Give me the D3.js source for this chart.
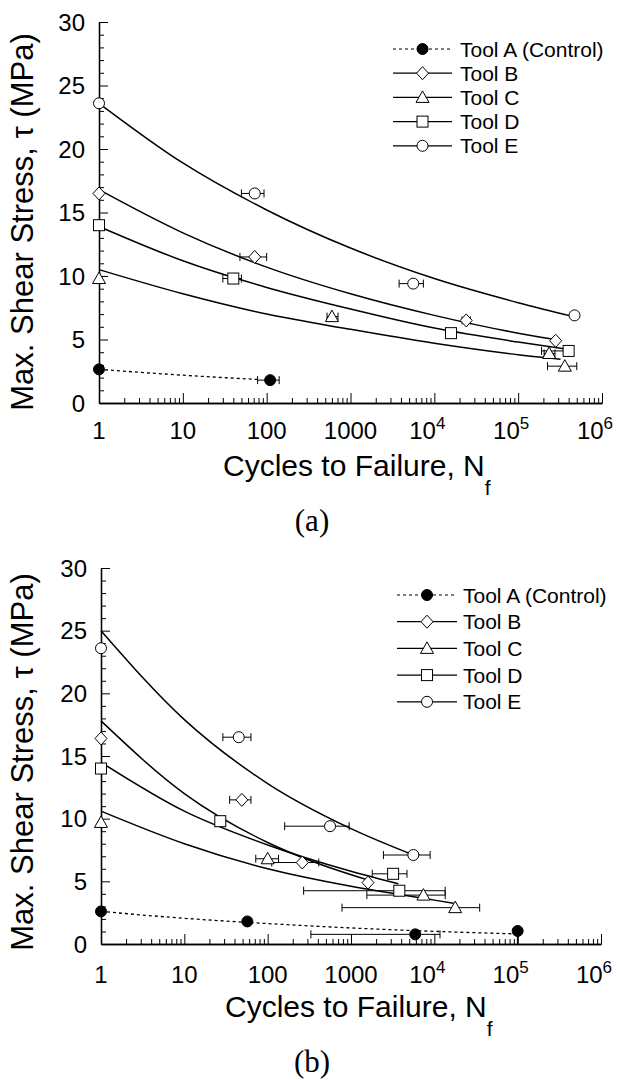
<!DOCTYPE html>
<html><head><meta charset="utf-8">
<script src="https://cdn.jsdelivr.net/npm/d3@7/dist/d3.min.js"></script>
<style>body{margin:0;background:#fff}</style>
</head><body>
<svg id="c" width="618" height="1080" xmlns="http://www.w3.org/2000/svg"></svg>
<script>
// ---------- shared labels ----------
const tools = ["Tool A (Control)", "Tool B", "Tool C", "Tool D", "Tool E"];
const toolMarkers = ["fcircle", "diamond", "triangle", "square", "circle"];
const yTicks = [0, 5, 10, 15, 20, 25, 30];
const xTicks = [1, 10, 100, 1000, 1e4, 1e5, 1e6];
const xTickBase = ["1", "10", "100", "1000", "10", "10", "10"];
const xTickSup = ["", "", "", "", "4", "5", "6"];
const yTitle = "Max. Shear Stress, \u03C4 (MPa)";
const xTitle = "Cycles to Failure, N";
const xTitleSub = "f";
const panelLabels = ["(a)", "(b)"];

// ---------- panel (a) measured points {n: cycles, t: MPa, lo/hi: cycle error} ----------
const aPtsA = [{n:1,t:2.65},{n:110,t:1.8,lo:78,hi:141}];
const aPtsB = [{n:1,t:16.5},{n:72,t:11.5,lo:48,hi:100},{n:24000,t:6.5,lo:21400,hi:26900},{n:2.8e5,t:4.9}];
const aPtsC = [{n:1,t:9.8},{n:600,t:6.8,lo:525,hi:710},{n:2.34e5,t:3.9,lo:2.04e5,hi:2.75e5},{n:3.6e5,t:2.9,lo:2.24e5,hi:5.0e5}];
const aPtsD = [{n:1,t:14.0},{n:40,t:9.8,lo:30,hi:50},{n:15800,t:5.5},{n:4.0e5,t:4.1,lo:1.9e5,hi:4.2e5}];
const aPtsE = [{n:1,t:23.6},{n:72,t:16.5,lo:50,hi:93},{n:5600,t:9.4,lo:3800,hi:7400},{n:4.7e5,t:6.9,lo:4.4e5,hi:5.0e5}];
// panel (a) fitted curves [cycles, MPa]
const aFitA = [[1,2.65],[10,2.19],[80,1.85]];
const aFitB = [[1,16.8],[10,13.4],[100,10.7],[1000,8.6],[1e4,6.9],[1e5,5.5],[2.8e5,5.0]];
const aFitC = [[1,10.5],[10,8.6],[100,7.0],[1000,5.8],[1e4,4.7],[1e5,3.8],[3.2e5,3.45]];
const aFitD = [[1,13.9],[10,11.2],[100,9.1],[1000,7.4],[1e4,5.9],[1e5,4.8],[4.2e5,4.2]];
const aFitE = [[1,23.6],[10,18.9],[100,15.2],[1000,12.2],[1e4,9.8],[1e5,7.9],[4.6e5,6.8]];

// ---------- panel (b) ----------
const bPtsA = [{n:1,t:2.6},{n:57,t:1.8},{n:5900,t:0.77,lo:330,hi:11700},{n:1e5,t:1.04,ylo:0}];
const bPtsB = [{n:1,t:16.4},{n:49,t:11.5,lo:35,hi:63},{n:260,t:6.5,lo:112,hi:410},{n:1600,t:4.9}];
const bPtsC = [{n:1,t:9.7},{n:100,t:6.8,lo:72,hi:135},{n:7400,t:3.9,lo:1550,hi:13500},{n:17800,t:2.9,lo:780,hi:35000}];
const bPtsD = [{n:1,t:14.0},{n:27,t:9.8,lo:25,hi:31},{n:3200,t:5.6,lo:1800,hi:4700},{n:3800,t:4.25,lo:270,hi:13500}];
const bPtsE = [{n:1,t:23.6},{n:45,t:16.5,lo:29,hi:63},{n:560,t:9.4,lo:160,hi:950},{n:5600,t:7.1,lo:2450,hi:8900}];
const bFitA = [[1,2.6],[10,2.05],[100,1.63],[1000,1.28],[1e4,1.01],[9e4,0.81]];
const bFitB = [[1,17.8],[10,12.0],[100,8.1],[340,6.6],[1600,5.1]];
const bFitC = [[1,10.6],[10,8.0],[100,6.0],[1000,4.6],[1e4,3.5],[17000,3.25]];
const bFitD = [[1,14.5],[10,10.6],[100,7.9],[1000,5.8],[3700,4.8]];
const bFitE = [[1,25.0],[10,17.9],[100,12.8],[1000,9.2],[5600,7.1]];

const SANS = "'Liberation Sans', Arial, Helvetica, sans-serif";
const SERIF = "'Liberation Serif', 'Times New Roman', serif";
const svg = d3.select("#c");

function marker(g, type, cx, cy) {
  const s = 5.5;
  if (type === "circle" || type === "fcircle") {
    g.append("circle").attr("cx", cx).attr("cy", cy).attr("r", s)
      .attr("fill", type === "fcircle" ? "#000" : "#fff").attr("stroke", "#000").attr("stroke-width", 1);
  } else if (type === "square") {
    g.append("rect").attr("x", cx - 5.5).attr("y", cy - 5.5).attr("width", 11).attr("height", 11)
      .attr("fill", "#fff").attr("stroke", "#000").attr("stroke-width", 1);
  } else if (type === "diamond") {
    g.append("path").attr("d", `M${cx},${cy-6.5}L${cx+6},${cy}L${cx},${cy+6.5}L${cx-6},${cy}Z`)
      .attr("fill", "#fff").attr("stroke", "#000").attr("stroke-width", 1);
  } else if (type === "triangle") {
    g.append("path").attr("d", `M${cx},${cy-6.5}L${cx+6.5},${cy+5}L${cx-6.5},${cy+5}Z`)
      .attr("fill", "#fff").attr("stroke", "#000").attr("stroke-width", 1);
  }
}

function panel(cfg) {
  const x = d3.scaleLog().domain([1, 1e6]).range([cfg.x0, cfg.x1]);
  const y = d3.scaleLinear().domain([0, 30]).range([cfg.y0, cfg.y1]);
  const g = svg.append("g");

  // axes (ticks point inward)
  const yMinor = d3.range(0, 31).filter(v => v % 5 !== 0);
  const ax = g.append("g").attr("class", "axes");
  ax.append("g").attr("transform", `translate(${cfg.x0},0)`)
    .call(d3.axisRight(y).tickValues(yMinor).tickSizeInner(5).tickSizeOuter(0).tickFormat(() => ""));
  ax.append("g").attr("transform", `translate(${cfg.x0},0)`)
    .call(d3.axisRight(y).tickValues(yTicks).tickSizeInner(9).tickSizeOuter(0).tickFormat(() => ""));
  const xMinor = [];
  for (let d = 1; d < 1e6; d *= 10) for (let k = 2; k <= 9; k++) xMinor.push(d * k);
  ax.append("g").attr("transform", `translate(0,${cfg.y0})`)
    .call(d3.axisTop(x).tickValues(xMinor).tickSizeInner(5).tickSizeOuter(0).tickFormat(() => ""));
  ax.append("g").attr("transform", `translate(0,${cfg.y0})`)
    .call(d3.axisTop(x).tickValues(xTicks).tickSizeInner(10).tickSizeOuter(0).tickFormat(() => ""));
  ax.selectAll("path.domain").attr("stroke", "#000").attr("stroke-width", 1.3);
  ax.selectAll(".tick line").attr("stroke", "#000").attr("stroke-width", 1);

  // tick labels
  g.selectAll("text.yl").data(yTicks).join("text")
    .attr("x", cfg.x0 - 14).attr("y", d => y(d)).attr("dy", "0.36em")
    .attr("text-anchor", "end").attr("font-family", SANS).attr("font-size", 24).text(d => d);
  xTicks.forEach((v, i) => {
    const t = g.append("text").attr("x", x(v) - (xTickSup[i] ? 7 : 0)).attr("y", cfg.y0 + cfg.xlabDy)
      .attr("text-anchor", "middle").attr("font-family", SANS).attr("font-size", 24);
    t.append("tspan").text(xTickBase[i]);
    if (xTickSup[i]) t.append("tspan").attr("font-size", 17).attr("dy", -10).text(xTickSup[i]);
  });

  // titles
  g.append("text").attr("transform", `translate(${cfg.ytx},${cfg.yty}) rotate(-90)`)
    .attr("text-anchor", "middle").attr("font-family", SANS).attr("font-size", 31).text(yTitle);
  const xt = g.append("text").attr("x", cfg.xtx).attr("y", cfg.xty)
    .attr("font-family", SANS).attr("font-size", 30);
  xt.append("tspan").text(xTitle);
  xt.append("tspan").attr("font-size", 21).attr("dy", 19).text(xTitleSub);
  g.append("text").attr("x", cfg.plx).attr("y", cfg.ply).attr("text-anchor", "middle")
    .attr("font-family", SERIF).attr("font-size", 31).text(cfg.label);

  // fitted curves
  const line = d3.line().x(d => x(d[0])).y(d => y(d[1])).curve(d3.curveMonotoneX);
  cfg.fits.forEach((f, i) => {
    g.append("path").attr("d", line(f)).attr("fill", "none").attr("stroke", "#000")
      .attr("stroke-width", i === 0 ? 1.3 : 1.5)
      .attr("stroke-dasharray", i === 0 ? "3,3" : null);
  });

  // error bars
  cfg.pts.forEach(ps => ps.forEach(p => {
    if (p.lo !== undefined) {
      const yy = y(p.t);
      g.append("line").attr("x1", x(p.lo)).attr("x2", x(p.hi)).attr("y1", yy).attr("y2", yy)
        .attr("stroke", "#000").attr("stroke-width", 1);
      [p.lo, p.hi].forEach(e => g.append("line").attr("x1", x(e)).attr("x2", x(e))
        .attr("y1", yy - 4).attr("y2", yy + 4).attr("stroke", "#000").attr("stroke-width", 1));
    }
    if (p.ylo !== undefined) {
      g.append("line").attr("x1", x(p.n)).attr("x2", x(p.n)).attr("y1", y(p.t)).attr("y2", y(p.ylo))
        .attr("stroke", "#000").attr("stroke-width", 1.5);
    }
  }));
  // markers
  cfg.pts.forEach((ps, i) => ps.forEach(p => marker(g, toolMarkers[i], x(p.n), y(p.t))));

  // legend
  tools.forEach((name, i) => {
    const yy = cfg.legY + i * cfg.legDy;
    g.append("line").attr("x1", cfg.legX0).attr("x2", cfg.legX1).attr("y1", yy).attr("y2", yy)
      .attr("stroke", "#000").attr("stroke-width", i === 0 ? 1.2 : 1.3)
      .attr("stroke-dasharray", i === 0 ? "3,3" : null);
    marker(g, toolMarkers[i], (cfg.legX0 + cfg.legX1) / 2, yy);
    g.append("text").attr("x", cfg.legTx).attr("y", yy).attr("dy", "0.36em")
      .attr("font-family", SANS).attr("font-size", 21).text(name);
  });
}

panel({
  x0: 99, x1: 602, y0: 403, y1: 22, xlabDy: 36,
  ytx: 33, yty: 222, xtx: 223, xty: 476, plx: 312, ply: 531, label: panelLabels[0],
  fits: [aFitA, aFitB, aFitC, aFitD, aFitE],
  pts: [aPtsA, aPtsB, aPtsC, aPtsD, aPtsE],
  legX0: 393, legX1: 452, legTx: 460, legY: 49, legDy: 24.2
});
panel({
  x0: 101, x1: 601, y0: 944, y1: 568, xlabDy: 39,
  ytx: 33, yty: 762, xtx: 225, xty: 1017, plx: 312, ply: 1072, label: panelLabels[1],
  fits: [bFitA, bFitB, bFitC, bFitD, bFitE],
  pts: [bPtsA, bPtsB, bPtsC, bPtsD, bPtsE],
  legX0: 397, legX1: 457, legTx: 463, legY: 595, legDy: 26.7
});
</script>
</body></html>
